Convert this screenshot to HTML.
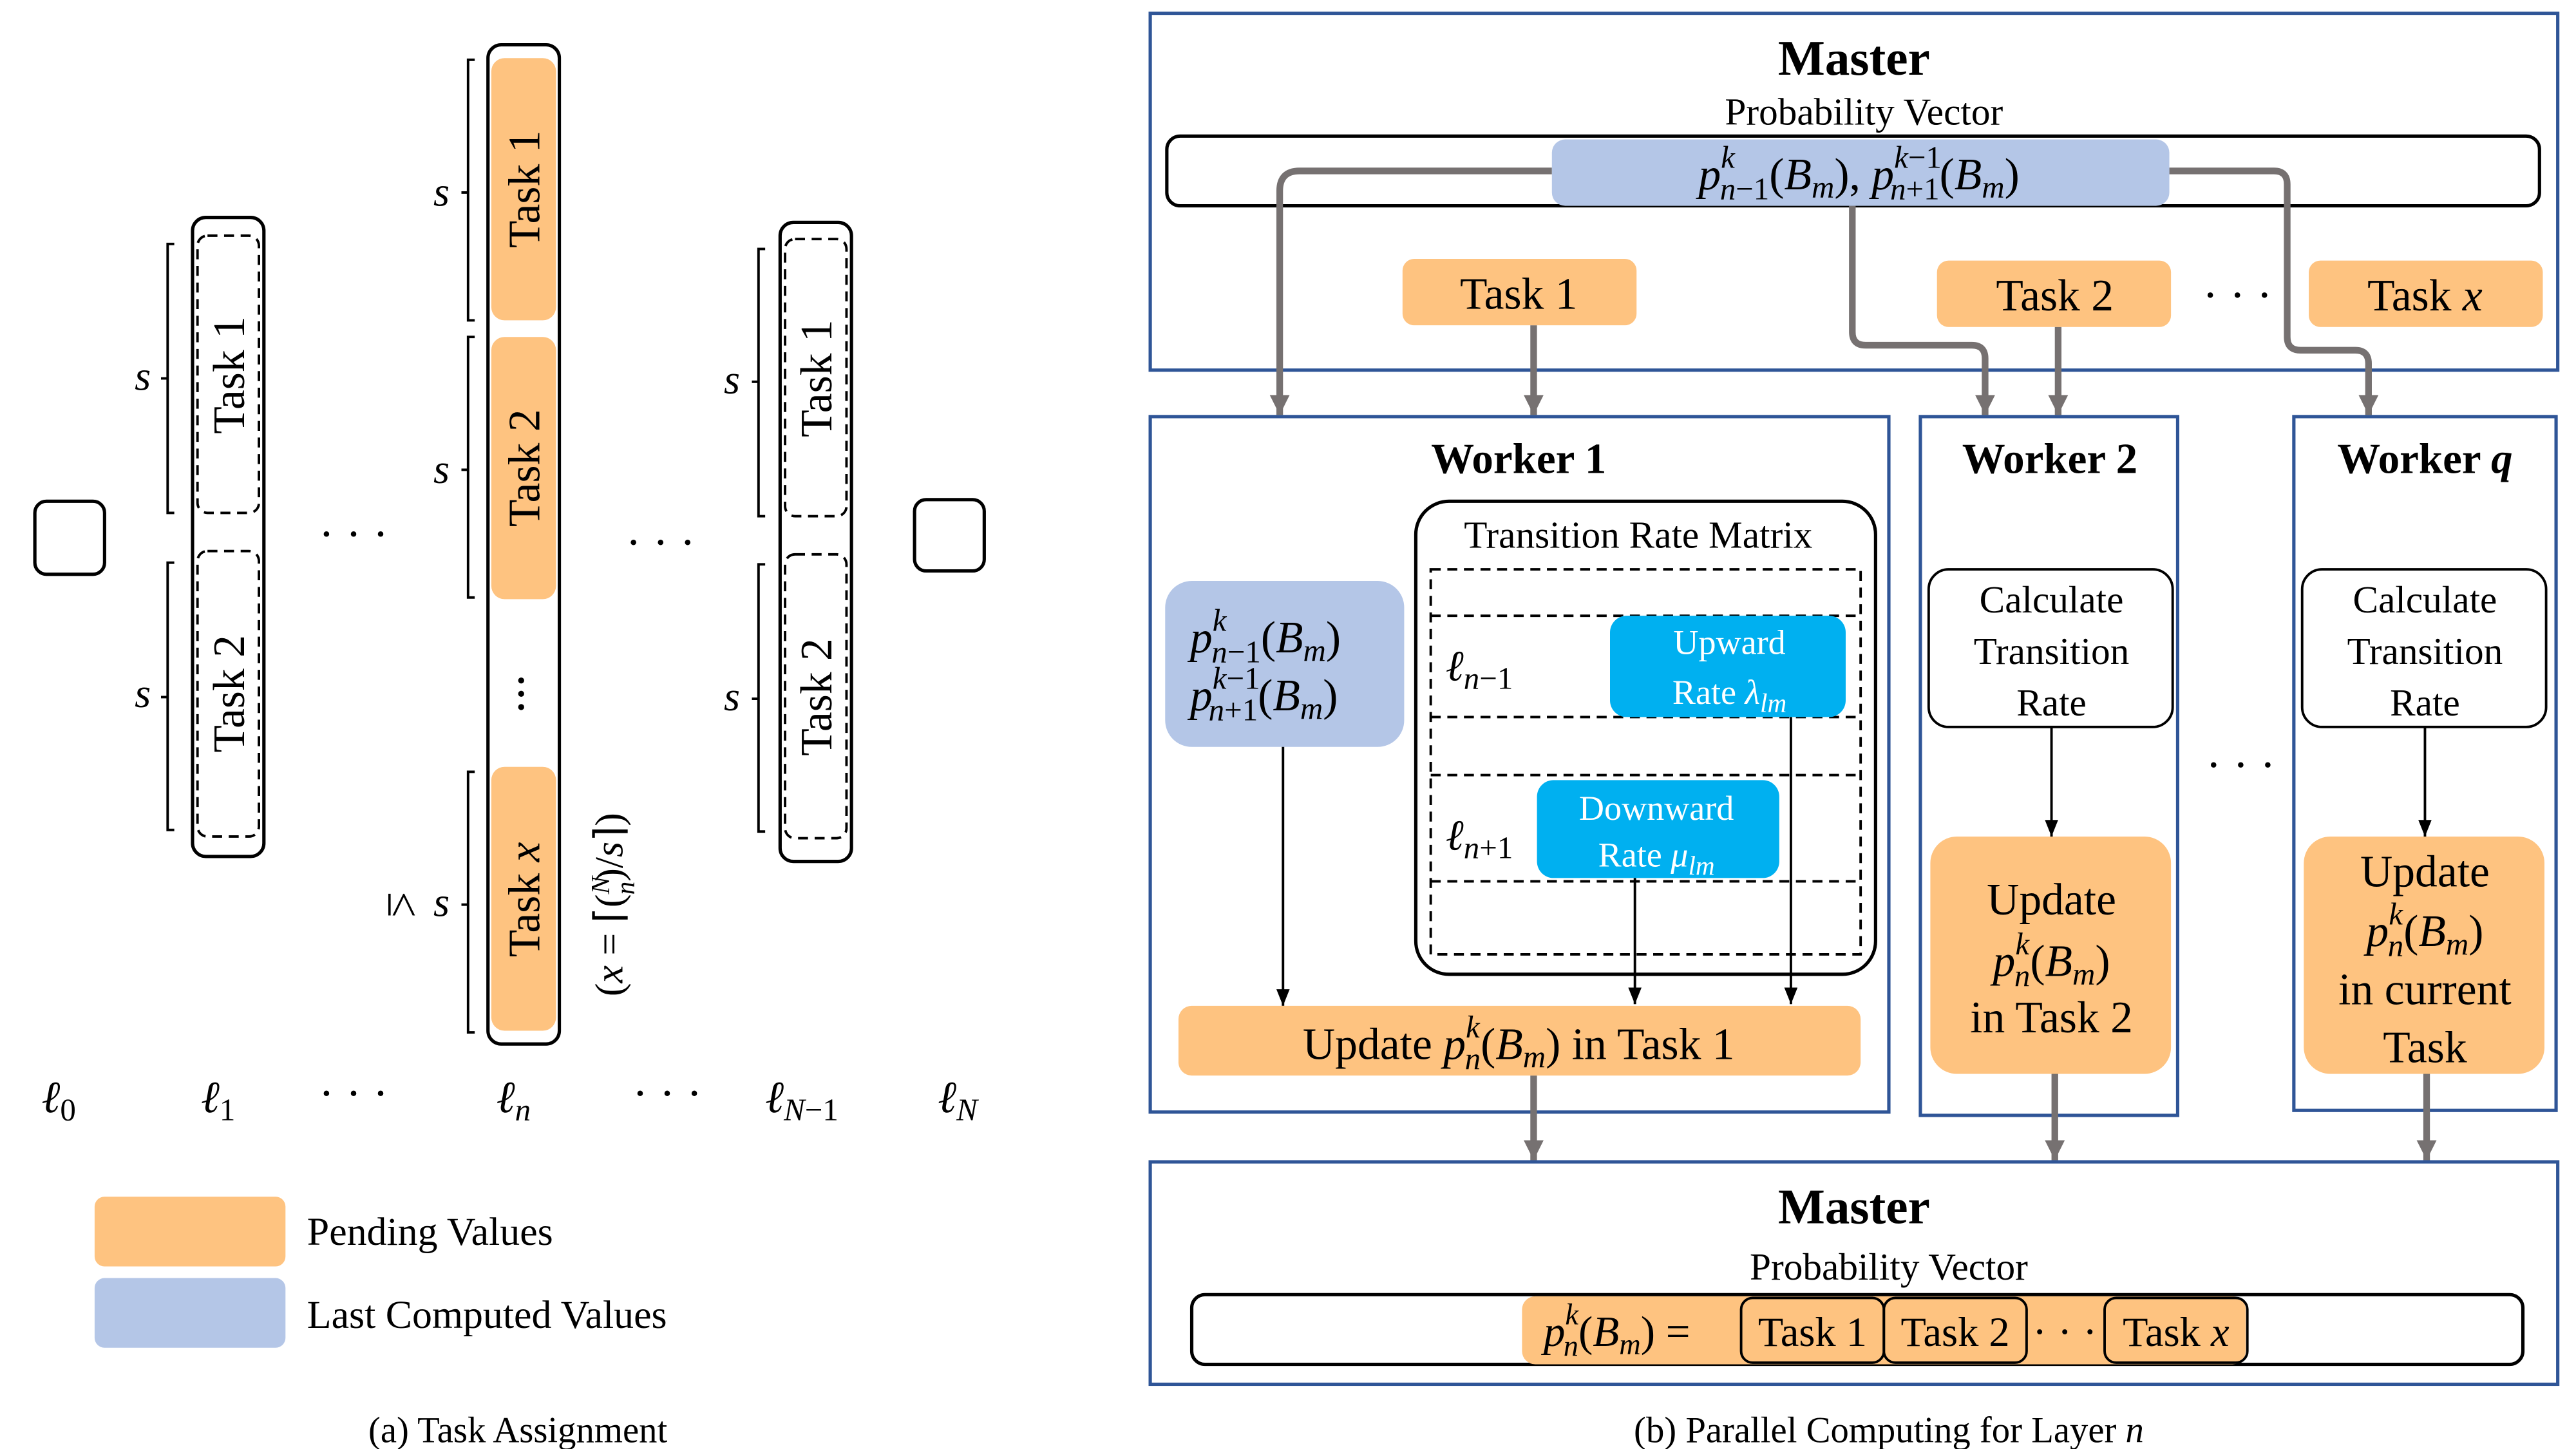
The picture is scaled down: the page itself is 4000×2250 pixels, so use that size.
<!DOCTYPE html>
<html><head><meta charset="utf-8"><style>
html,body{margin:0;padding:0;background:#fff;width:4000px;height:2250px;overflow:hidden}
svg{display:block}
text{font-family:"Liberation Serif",serif;fill:#000}
.i{font-style:italic}
</style></head><body>
<svg width="4000" height="2250" viewBox="0 0 1552 873" xmlns="http://www.w3.org/2000/svg">
<defs>
<marker id="ab" markerWidth="10" markerHeight="8" refX="10" refY="4" orient="auto" markerUnits="userSpaceOnUse" viewBox="0 0 10 8"><path d="M0,0 L10,4 L0,8 z" fill="#000"/></marker>
<marker id="ag" markerWidth="12" markerHeight="12" refX="12" refY="6" orient="auto" markerUnits="userSpaceOnUse" viewBox="0 0 12 12"><path d="M0,0 L12,6 L0,12 z" fill="#767171"/></marker>
</defs>
<rect width="1552" height="873" fill="#fff"/>

<!-- ===== Left panel ===== -->
<g fill="none" stroke="#000" stroke-width="2">
<rect x="21" y="302" width="42" height="44" rx="7"/>
<rect x="116" y="131" width="43" height="385" rx="8"/>
<rect x="294" y="27" width="43" height="602" rx="8"/>
<rect x="470" y="134" width="43" height="385" rx="8"/>
<rect x="551" y="301" width="42" height="43" rx="7"/>
</g>
<g fill="none" stroke="#000" stroke-width="1.5" stroke-dasharray="6,4">
<rect x="119" y="142" width="37" height="167" rx="6"/>
<rect x="119" y="332" width="37" height="172" rx="6"/>
<rect x="473" y="144" width="37" height="167" rx="6"/>
<rect x="473" y="334" width="37" height="171" rx="6"/>
</g>
<g fill="#fec380">
<rect x="296" y="35" width="39" height="158" rx="8"/>
<rect x="296" y="203" width="39" height="158" rx="8"/>
<rect x="296" y="462" width="39" height="159" rx="8"/>
</g>
<g fill="none" stroke="#000" stroke-width="1.5">
<path d="M105,147 H101 V309 H105 M101,228 H97"/>
<path d="M105,339 H101 V500 H105 M101,420 H97"/>
<path d="M286,36 H282 V193 H286 M282,116 H278"/>
<path d="M286,203 H282 V360 H286 M282,283 H278"/>
<path d="M286,465 H282 V622 H286 M282,545 H278"/>
<path d="M461,150 H457 V311 H461 M457,230 H453"/>
<path d="M461,340 H457 V501 H461 M457,421 H453"/>
</g>
<g font-size="25">
<text x="86" y="235" text-anchor="middle" class="i">s</text>
<text x="86" y="426" text-anchor="middle" class="i">s</text>
<text x="266" y="124" text-anchor="middle" class="i">s</text>
<text x="266" y="291" text-anchor="middle" class="i">s</text>
<text x="266" y="552" text-anchor="middle" class="i">s</text>
<text x="441" y="237" text-anchor="middle" class="i">s</text>
<text x="441" y="428" text-anchor="middle" class="i">s</text>
</g>
<g font-size="27">
<text transform="translate(147,226) rotate(-90)" text-anchor="middle">Task 1</text>
<text transform="translate(147,418) rotate(-90)" text-anchor="middle">Task 2</text>
<text transform="translate(325,114) rotate(-90)" text-anchor="middle">Task 1</text>
<text transform="translate(325,282) rotate(-90)" text-anchor="middle">Task 2</text>
<text transform="translate(325,542) rotate(-90)" text-anchor="middle">Task <tspan class="i">x</tspan></text>
<text transform="translate(501,228) rotate(-90)" text-anchor="middle">Task 1</text>
<text transform="translate(501,420) rotate(-90)" text-anchor="middle">Task 2</text>
<text transform="translate(234,545) rotate(90)" text-anchor="middle" font-size="28">≤</text>
</g>
<text transform="translate(375,545) rotate(-90)" text-anchor="middle" font-size="24">(<tspan class="i">x</tspan> = ⌈(<tspan class="i" font-size="16" dy="-8">N</tspan><tspan class="i" font-size="16" dx="-11" dy="15">n</tspan><tspan dy="-7">)/</tspan><tspan class="i">s</tspan>⌉)</text>
<g font-size="28">
<text x="213" y="331" text-anchor="middle">· · ·</text>
<text x="398" y="336" text-anchor="middle">· · ·</text>
<text x="213" y="668" text-anchor="middle">· · ·</text>
<text x="402" y="668" text-anchor="middle">· · ·</text>
</g>
<g fill="#000"><circle cx="314" cy="410" r="1.8"/><circle cx="314" cy="418" r="1.8"/><circle cx="314" cy="426" r="1.8"/></g>
<g font-size="27">
<text x="25" y="670" class="i">ℓ<tspan font-size="19" dy="5" font-style="normal">0</tspan></text>
<text x="121" y="670" class="i">ℓ<tspan font-size="19" dy="5" font-style="normal">1</tspan></text>
<text x="299" y="670" class="i">ℓ<tspan font-size="19" dy="5">n</tspan></text>
<text x="461" y="670" class="i">ℓ<tspan font-size="19" dy="5">N</tspan><tspan font-size="19" font-style="normal">−1</tspan></text>
<text x="565" y="670" class="i">ℓ<tspan font-size="19" dy="5">N</tspan></text>
</g>
<rect x="57" y="721" width="115" height="42" rx="6" fill="#fec380"/>
<rect x="57" y="770" width="115" height="42" rx="6" fill="#b4c6e7"/>
<text x="185" y="750" font-size="24">Pending Values</text>
<text x="185" y="800" font-size="24">Last Computed Values</text>
<text x="312" y="869" font-size="22" text-anchor="middle">(a) Task Assignment</text>

<!-- ===== Right panel ===== -->
<g fill="none" stroke="#2f5597" stroke-width="2">
<rect x="693" y="8" width="848" height="215"/>
<rect x="693" y="251" width="445" height="419"/>
<rect x="1157" y="251" width="155" height="421"/>
<rect x="1382" y="251" width="158" height="418"/>
<rect x="693" y="700" width="848" height="134"/>
</g>
<text x="1117" y="45" font-size="30" font-weight="bold" text-anchor="middle">Master</text>
<text x="1123" y="75" font-size="23" text-anchor="middle">Probability Vector</text>
<rect x="703" y="82" width="827" height="42" rx="8" fill="none" stroke="#000" stroke-width="2"/>
<g fill="none" stroke="#767171" stroke-width="4">
<path d="M935,103 H783 Q771,103 771,115 V250" marker-end="url(#ag)"/>
<path d="M1116,124 V200 Q1116,208 1124,208 H1188 Q1196,208 1196,216 V250" marker-end="url(#ag)"/>
<path d="M1307,103 H1370 Q1378,103 1378,111 V203 Q1378,211 1386,211 H1419 Q1427,211 1427,219 V250" marker-end="url(#ag)"/>
<path d="M924,196 V250" marker-end="url(#ag)"/>
<path d="M1240,197 V250" marker-end="url(#ag)"/>
<path d="M924,648 V699" marker-end="url(#ag)"/>
<path d="M1238,647 V699" marker-end="url(#ag)"/>
<path d="M1462,647 V699" marker-end="url(#ag)"/>
</g>
<rect x="935" y="84" width="372" height="40" rx="8" fill="#b4c6e7"/>
<text x="1120" y="114" font-size="27" text-anchor="middle"><tspan class="i">p</tspan><tspan class="i" font-size="19" dy="-13">k</tspan><tspan class="i" font-size="19" dx="-9" dy="19">n</tspan><tspan font-size="19">−1</tspan><tspan dy="-6">(</tspan><tspan class="i">B</tspan><tspan class="i" font-size="19" dy="5">m</tspan><tspan dy="-5">),  </tspan><tspan class="i">p</tspan><tspan class="i" font-size="19" dy="-13">k</tspan><tspan font-size="19">−1</tspan><tspan class="i" font-size="19" dx="-31" dy="19">n</tspan><tspan font-size="19">+1</tspan><tspan dy="-6">(</tspan><tspan class="i">B</tspan><tspan class="i" font-size="19" dy="5">m</tspan><tspan dy="-5">)</tspan></text>
<g fill="#fec380">
<rect x="845" y="156" width="141" height="40" rx="7"/>
<rect x="1167" y="157" width="141" height="40" rx="7"/>
<rect x="1391" y="157" width="141" height="40" rx="7"/>
</g>
<text x="915" y="186" font-size="27" text-anchor="middle">Task 1</text>
<text x="1238" y="187" font-size="27" text-anchor="middle">Task 2</text>
<text x="1348" y="187" font-size="28" text-anchor="middle">· · ·</text>
<text x="1461" y="187" font-size="27" text-anchor="middle">Task <tspan class="i">x</tspan></text>

<!-- Worker 1 -->
<text x="915" y="285" font-size="26" font-weight="bold" text-anchor="middle">Worker 1</text>
<rect x="853" y="302" width="277" height="285" rx="20" fill="none" stroke="#000" stroke-width="2"/>
<text x="987" y="330" font-size="23" text-anchor="middle">Transition Rate Matrix</text>
<g fill="none" stroke="#000" stroke-width="1.5" stroke-dasharray="6,4">
<rect x="862" y="343" width="259" height="232"/>
<path d="M862,371 H1121 M862,432 H1121 M862,467 H1121 M862,531 H1121"/>
</g>
<rect x="970" y="371" width="142" height="61" rx="10" fill="#00b0f0"/>
<rect x="926" y="470" width="146" height="59" rx="10" fill="#00b0f0"/>
<text x="1042" y="394" font-size="21" text-anchor="middle" style="fill:#fff">Upward</text>
<text x="1042" y="424" font-size="21" text-anchor="middle" style="fill:#fff">Rate <tspan class="i" style="fill:#fff">λ</tspan><tspan class="i" font-size="16" dy="5" style="fill:#fff">lm</tspan></text>
<text x="998" y="494" font-size="21" text-anchor="middle" style="fill:#fff">Downward</text>
<text x="998" y="522" font-size="21" text-anchor="middle" style="fill:#fff">Rate <tspan class="i" style="fill:#fff">μ</tspan><tspan class="i" font-size="16" dy="5" style="fill:#fff">lm</tspan></text>
<text x="871" y="410" font-size="26" class="i">ℓ<tspan font-size="19" dy="5">n</tspan><tspan font-size="19" font-style="normal">−1</tspan></text>
<text x="871" y="512" font-size="26" class="i">ℓ<tspan font-size="19" dy="5">n</tspan><tspan font-size="19" font-style="normal">+1</tspan></text>
<rect x="702" y="350" width="144" height="100" rx="16" fill="#b4c6e7"/>
<text x="717" y="393" font-size="27"><tspan class="i">p</tspan><tspan class="i" font-size="19" dy="-13">k</tspan><tspan class="i" font-size="19" dx="-9" dy="19">n</tspan><tspan font-size="19">−1</tspan><tspan dy="-6">(</tspan><tspan class="i">B</tspan><tspan class="i" font-size="19" dy="5">m</tspan><tspan dy="-5">)</tspan></text>
<text x="717" y="428" font-size="27"><tspan class="i">p</tspan><tspan class="i" font-size="19" dy="-13">k</tspan><tspan font-size="19">−1</tspan><tspan class="i" font-size="19" dx="-31" dy="19">n</tspan><tspan font-size="19">+1</tspan><tspan dy="-6">(</tspan><tspan class="i">B</tspan><tspan class="i" font-size="19" dy="5">m</tspan><tspan dy="-5">)</tspan></text>
<g stroke="#000" stroke-width="1.5" fill="none">
<path d="M773,450 V606" marker-end="url(#ab)"/>
<path d="M985,529 V605" marker-end="url(#ab)"/>
<path d="M1079,432 V605" marker-end="url(#ab)"/>
<path d="M1236,438 V504" marker-end="url(#ab)"/>
<path d="M1461,438 V504" marker-end="url(#ab)"/>
</g>
<rect x="710" y="606" width="411" height="42" rx="8" fill="#fec380"/>
<text x="915" y="638" font-size="27" text-anchor="middle">Update <tspan class="i">p</tspan><tspan class="i" font-size="19" dy="-13">k</tspan><tspan class="i" font-size="19" dx="-9" dy="19">n</tspan><tspan dy="-6">(</tspan><tspan class="i">B</tspan><tspan class="i" font-size="19" dy="5">m</tspan><tspan dy="-5">)   in Task 1</tspan></text>

<!-- Worker 2 -->
<text x="1235" y="285" font-size="26" font-weight="bold" text-anchor="middle">Worker 2</text>
<rect x="1162" y="343" width="147" height="95" rx="12" fill="#fff" stroke="#000" stroke-width="1.5"/>
<text x="1236" y="369" font-size="23" text-anchor="middle">Calculate</text>
<text x="1236" y="400" font-size="23" text-anchor="middle">Transition</text>
<text x="1236" y="431" font-size="23" text-anchor="middle">Rate</text>
<rect x="1163" y="504" width="145" height="143" rx="16" fill="#fec380"/>
<text x="1236" y="551" font-size="27" text-anchor="middle">Update</text>
<text x="1236" y="588" font-size="27" text-anchor="middle"><tspan class="i">p</tspan><tspan class="i" font-size="19" dy="-13">k</tspan><tspan class="i" font-size="19" dx="-9" dy="19">n</tspan><tspan dy="-6">(</tspan><tspan class="i">B</tspan><tspan class="i" font-size="19" dy="5">m</tspan><tspan dy="-5">)</tspan></text>
<text x="1236" y="622" font-size="27" text-anchor="middle">in Task 2</text>
<text x="1350" y="470" font-size="28" text-anchor="middle">· · ·</text>

<!-- Worker q -->
<text x="1461" y="285" font-size="26" font-weight="bold" text-anchor="middle">Worker <tspan class="i">q</tspan></text>
<rect x="1387" y="343" width="147" height="95" rx="12" fill="#fff" stroke="#000" stroke-width="1.5"/>
<text x="1461" y="369" font-size="23" text-anchor="middle">Calculate</text>
<text x="1461" y="400" font-size="23" text-anchor="middle">Transition</text>
<text x="1461" y="431" font-size="23" text-anchor="middle">Rate</text>
<rect x="1388" y="504" width="145" height="143" rx="16" fill="#fec380"/>
<text x="1461" y="534" font-size="27" text-anchor="middle">Update</text>
<text x="1461" y="570" font-size="27" text-anchor="middle"><tspan class="i">p</tspan><tspan class="i" font-size="19" dy="-13">k</tspan><tspan class="i" font-size="19" dx="-9" dy="19">n</tspan><tspan dy="-6">(</tspan><tspan class="i">B</tspan><tspan class="i" font-size="19" dy="5">m</tspan><tspan dy="-5">)</tspan></text>
<text x="1461" y="605" font-size="27" text-anchor="middle">in current</text>
<text x="1461" y="640" font-size="27" text-anchor="middle">Task</text>

<!-- Master bottom -->
<text x="1117" y="737" font-size="30" font-weight="bold" text-anchor="middle">Master</text>
<text x="1138" y="771" font-size="23" text-anchor="middle">Probability Vector</text>
<rect x="718" y="780" width="802" height="42" rx="8" fill="none" stroke="#000" stroke-width="2"/>
<rect x="917" y="781" width="436" height="41" rx="8" fill="#fec380"/>
<g fill="none" stroke="#000" stroke-width="1.5">
<rect x="1049" y="782" width="86" height="39" rx="7"/>
<rect x="1135" y="782" width="86" height="39" rx="7"/>
<rect x="1268" y="782" width="86" height="39" rx="7"/>
</g>
<text x="930" y="811" font-size="26"><tspan class="i">p</tspan><tspan class="i" font-size="18" dy="-13">k</tspan><tspan class="i" font-size="18" dx="-9" dy="19">n</tspan><tspan dy="-6">(</tspan><tspan class="i">B</tspan><tspan class="i" font-size="18" dy="5">m</tspan><tspan dy="-5">) =</tspan></text>
<text x="1092" y="811" font-size="25" text-anchor="middle">Task 1</text>
<text x="1178" y="811" font-size="25" text-anchor="middle">Task 2</text>
<text x="1244" y="811" font-size="26" text-anchor="middle">· · ·</text>
<text x="1311" y="811" font-size="25" text-anchor="middle">Task <tspan class="i">x</tspan></text>
<text x="1138" y="869" font-size="22" text-anchor="middle">(b) Parallel Computing for Layer <tspan class="i">n</tspan></text>
</svg>
</body></html>
